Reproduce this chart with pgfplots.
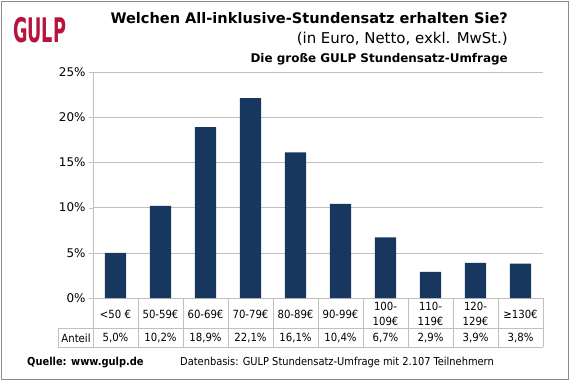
\documentclass[border=0pt]{standalone}
\usepackage{pgfplots}
\usepackage{pgfplotstable}
\pgfplotsset{compat=1.18}
\usepackage{fontspec}
\setmainfont{DejaVu Sans Condensed}
\newfontfamily\wide{DejaVu Sans}
\definecolor{barblue}{HTML}{17375E}
\definecolor{gridgray}{HTML}{C0C0C0}
\definecolor{framegray}{HTML}{8C8C8C}
\definecolor{gulpred}{HTML}{B8133C}
\pgfplotstableread{
x val
0 5.0
1 10.2
2 18.9
3 22.1
4 16.1
5 10.4
6 6.7
7 2.9
8 3.9
9 3.8
}\data
\newcommand{\f}[1]{\fontsize{#1}{#1}\selectfont}
\begin{document}
\begin{tikzpicture}
\begin{axis}[
  at={(0,0)}, anchor=south west,
  width=450bp, height=226bp, scale only axis,
  xmin=-0.5, xmax=9.5, ymin=0, ymax=25,
  ytick={0,5,...,25},
  yticklabel={\pgfmathprintnumber{\tick}\%},
  /pgf/number format/assume math mode=true,
  xtick={0,...,9},
  xticklabels={{<50 €},{50-59€},{60-69€},{70-79€},{80-89€},{90-99€},{100-\\109€},{110-\\119€},{120-\\129€},{≥130€}},
  xticklabel style={anchor=center, yshift=-12bp, align=center, font=\fontsize{11.3}{15}\selectfont, inner sep=0pt},
  yticklabel style={font=\wide\f{12}},
  major x tick style={draw=none},
  axis x line*=bottom, axis y line*=left,
  axis line style={gridgray},
  ymajorgrids, grid style={gridgray},
  y tick style={gridgray},
  tick align=outside,
  major tick length=4bp,
  clip=false,
]
\addplot[ybar, fill=barblue, draw=none, bar width=0.47] table[x=x, y=val]{\data};
\addplot[draw=none, mark=none, point meta=explicit,
  nodes near coords={\pgfmathprintnumber[fixed,fixed zerofill,precision=1,use comma]{\pgfplotspointmeta}\%},
  nodes near coords style={anchor=center, yshift=-40bp, font=\f{11.3}, text=black}]
  table[x=x, y expr=0, meta=val]{\data};
\end{axis}
\begin{scope}[xshift=-93bp, yshift=298bp, x=1bp, y=-1bp]
  \useasboundingbox (0,0) rectangle (570,381);
  \draw[framegray] (1.5,1.5) rectangle (568.5,379.5);
  % table grid
  \draw[gridgray] (58,328) -- (543,328);
  \draw[gridgray] (58,347) -- (543,347);
  \draw[gridgray] (58,328) -- (58,347);
  \foreach \k in {0,...,10} {\draw[gridgray] ({93+45*\k},298) -- ({93+45*\k},347);}
  \node[font=\f{11.3}, anchor=center] at (76,338) {Anteil};
  % titles
  \node[anchor=base east, inner sep=0, font=\wide\bfseries\f{14.6}] at (508,23) {Welchen All-inklusive-Stundensatz erhalten Sie?};
  \node[anchor=base east, inner sep=0, font=\wide\f{15}] at (508,43) {(in Euro, Netto, exkl. MwSt.)};
  \node[anchor=base east, inner sep=0, font=\wide\bfseries\f{12}] at (508,62) {Die große GULP Stundensatz-Umfrage};
  % logo
  \node[anchor=base west, inner sep=0, text=gulpred, font=\bfseries\f{34}, xscale=0.58] at (13,42) {GULP};
  % footer
  \node[anchor=base west, inner sep=0, font=\bfseries\f{11}] at (27,365) {Quelle: www.gulp.de};
  \node[anchor=base west, inner sep=0, font=\f{11}] at (180,365) {Datenbasis: GULP Stundensatz-Umfrage mit 2.107 Teilnehmern};
\end{scope}
\end{tikzpicture}
\end{document}
